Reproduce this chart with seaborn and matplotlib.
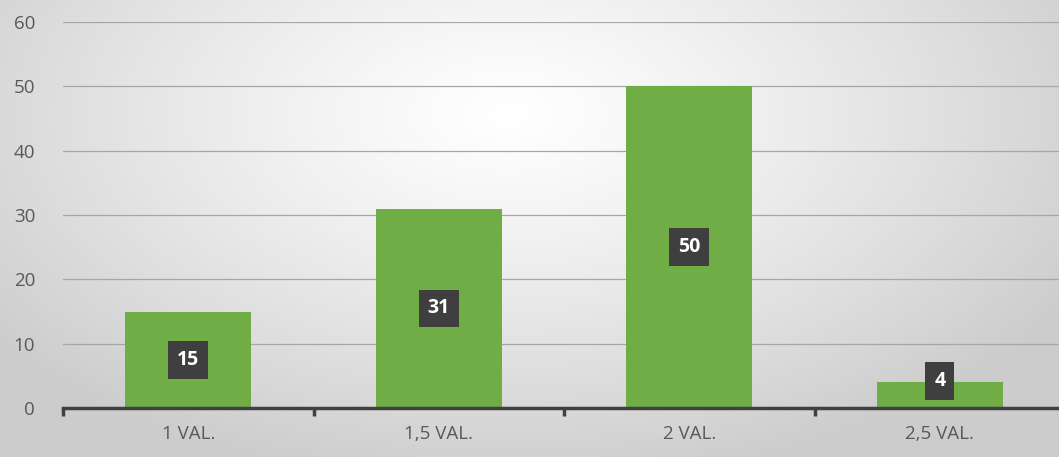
import numpy as np
import pandas as pd
import seaborn as sns
import matplotlib.pyplot as plt

OUTPUT_FILE = "out.png"

CATEGORIES = ["1 VAL.", "1,5 VAL.", "2 VAL.", "2,5 VAL."]
VALUES = [15, 31, 50, 4]
Y_TICKS = [0, 10, 20, 30, 40, 50, 60]

BAR_COLOR = "#70AD47"
TEXT_COLOR = "#595959"


def draw_background(fig):
    # radial grey gradient, light in the upper middle
    bg = fig.add_axes([0, 0, 1, 1], zorder=-10)
    w, h = 1059, 457
    xx, yy = np.meshgrid(np.linspace(0, 1, w), np.linspace(0, 1, h))
    d = np.sqrt(((xx - 0.48) * 1.0) ** 2 + ((yy - 0.25) * 0.75) ** 2)
    d = np.clip(d / 0.62, 0, 1)
    grey = 1.0 - 0.2 * d ** 1.2
    bg.imshow(np.dstack([grey, grey, grey]), aspect="auto", extent=[0, 1, 0, 1])
    bg.set_axis_off()


def draw_bars(ax):
    df = pd.DataFrame({"cat": CATEGORIES, "val": VALUES})
    sns.barplot(data=df, x="cat", y="val", color=BAR_COLOR, saturation=1,
                width=0.504, linewidth=0, ax=ax, zorder=3)

    ax.set_xlim(-0.5, len(CATEGORIES) - 0.5)
    ax.set_ylim(0, 60)
    ax.set_yticks(Y_TICKS)
    ax.set_xlabel("")
    ax.set_ylabel("")
    ax.set_facecolor("none")

    for s in ["top", "right", "left"]:
        ax.spines[s].set_visible(False)
    ax.spines["bottom"].set_color("#404040")
    ax.spines["bottom"].set_linewidth(2.5)
    ax.spines["bottom"].set_zorder(4)

    ax.yaxis.grid(True, color="#a6a6a6", linewidth=0.9, zorder=0)
    ax.xaxis.grid(False)
    ax.tick_params(axis="y", length=0, labelsize=13.5, labelcolor=TEXT_COLOR, pad=20)
    ax.tick_params(axis="x", length=0, labelsize=13.5, labelcolor=TEXT_COLOR, pad=12)

    # tick marks between categories
    ax.set_xticks([i - 0.5 for i in range(len(CATEGORIES) + 1)], minor=True)
    ax.tick_params(axis="x", which="minor", bottom=True, length=6, width=2.5,
                   color="#404040", direction="out")

    # value labels in dark boxes
    for i, v in enumerate(VALUES):
        y = max(v / 2, 4.2)
        ax.text(i, y, str(v), ha="center", va="center", color="white",
                fontsize=14, fontweight="bold", zorder=5,
                bbox=dict(boxstyle="square,pad=0.45", facecolor="#3f3f3f",
                          edgecolor="none"))


def main():
    sns.set_theme(style="white")
    plt.rcParams["font.family"] = ["Open Sans", "DejaVu Sans"]
    fig = plt.figure(figsize=(10.59, 4.57), dpi=100)
    draw_background(fig)
    ax = fig.add_axes([63 / 1059, 1 - 408 / 457, 1002 / 1059, (408 - 22) / 457])
    draw_bars(ax)
    fig.savefig(OUTPUT_FILE, dpi=100)


if __name__ == "__main__":
    main()
